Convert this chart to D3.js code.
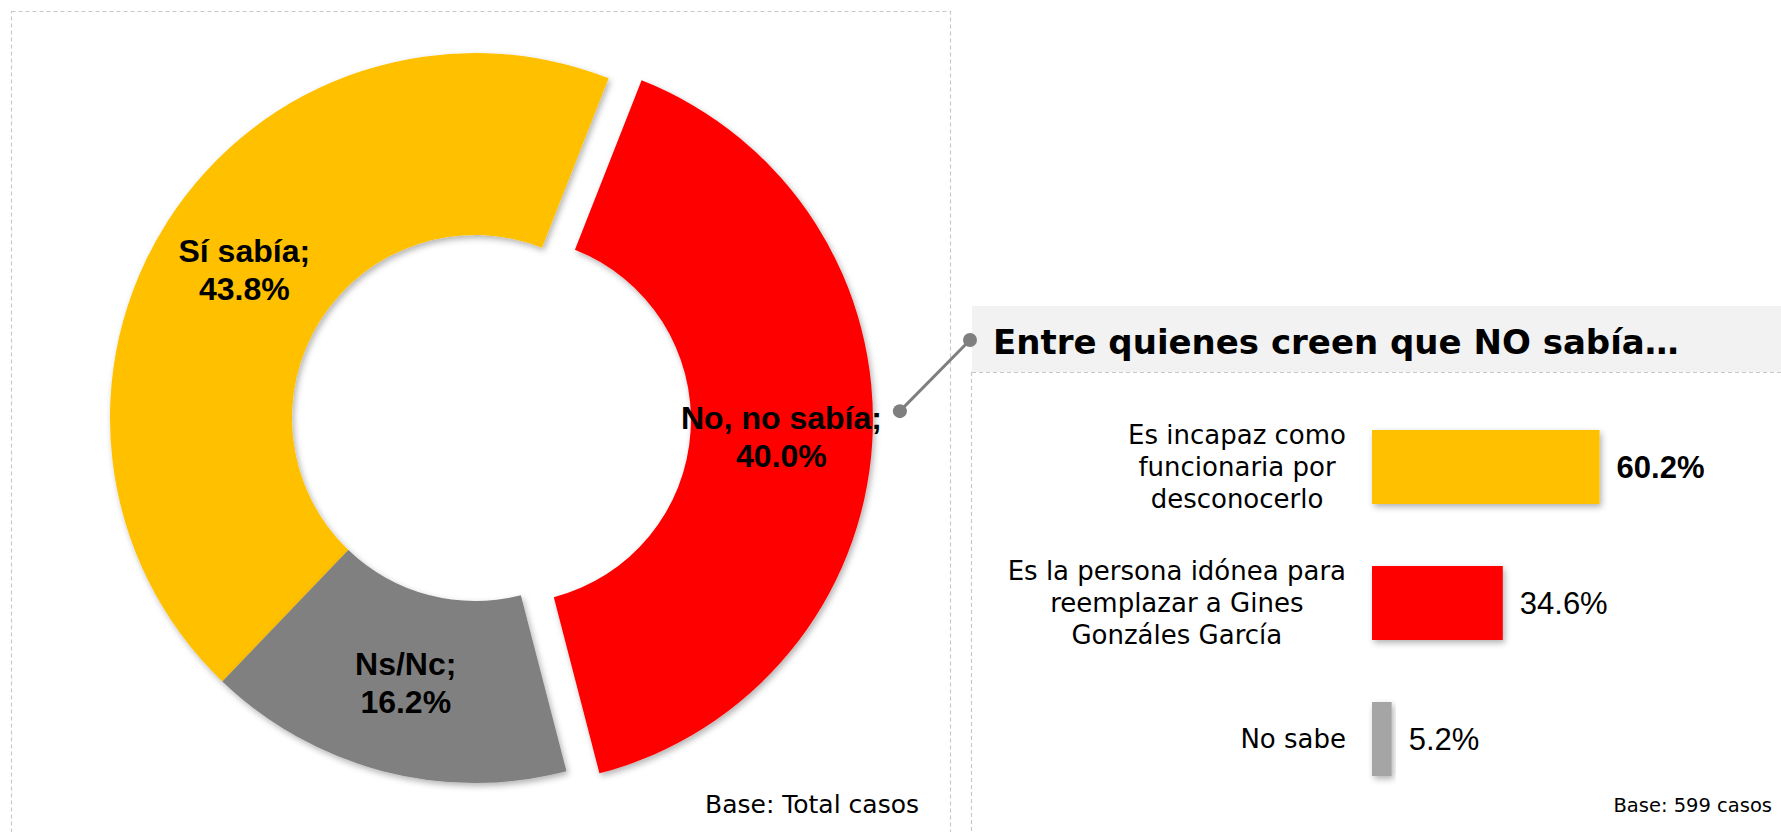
<!DOCTYPE html>
<html>
<head>
<meta charset="utf-8">
<script src="https://cdn.jsdelivr.net/npm/d3@7"></script>
<style>
  html, body { margin: 0; padding: 0; background: #fff; }
  svg { display: block; }
</style>
</head>
<body>
<div id="chart"></div>
<script>
// Donut: ¿Sabía o no sabía?
const donutLabels = ["Sí sabía", "No, no sabía", "Ns/Nc"];
const donutValues = [43.8, 40.0, 16.2];
const donutColors = ["#FFC000", "#FF0000", "#808080"];

// Barras: entre quienes creen que NO sabía
const barLabels = [
  ["Es incapaz como", "funcionaria por", "desconocerlo"],
  ["Es la persona idónea para", "reemplazar a Gines", "Gonzáles García"],
  ["No sabe"]
];
const barValues = [60.2, 34.6, 5.2];
const barColors = ["#FFC000", "#FF0000", "#A5A5A5"];

const width = 1781, height = 832;
const fontSans = "'Liberation Sans', Arial, sans-serif";
const fontDeja = "'DejaVu Sans', sans-serif";

const svg = d3.select("#chart").append("svg")
  .attr("width", width)
  .attr("height", height);

const defs = svg.append("defs");
defs.append("filter").attr("id", "shadow")
  .attr("x", "-20%").attr("y", "-20%").attr("width", "140%").attr("height", "140%")
  .append("feDropShadow")
  .attr("dx", 2).attr("dy", 3).attr("stdDeviation", 3)
  .attr("flood-color", "#000").attr("flood-opacity", 0.3);

// marcos punteados
svg.append("rect")
  .attr("x", 11.5).attr("y", 11.5)
  .attr("width", 939).attr("height", 840)
  .attr("fill", "none")
  .attr("stroke", "#c8c8c8").attr("stroke-width", 1.2)
  .attr("stroke-dasharray", "4,3");

// ---- donut ----
const cx = 475, cy = 418;
const outerR = 365, innerR = 183;
const startA = 223.8 * Math.PI / 180;
const explodeIdx = 1, explodeBy = 33;

const pie = d3.pie().sort(null).value(d => d)
  .startAngle(startA).endAngle(startA + 2 * Math.PI);
const arcs = pie(donutValues);
const arc = d3.arc().innerRadius(innerR).outerRadius(outerR);

function offset(d, i) {
  if (i !== explodeIdx) return [0, 0];
  const m = (d.startAngle + d.endAngle) / 2;
  return [Math.sin(m) * explodeBy, -Math.cos(m) * explodeBy];
}

const donut = svg.append("g").attr("transform", `translate(${cx},${cy})`);

const slices = donut.selectAll("g.slice")
  .data(arcs)
  .join("g")
  .attr("class", "slice")
  .attr("transform", (d, i) => `translate(${offset(d, i)})`);

slices.append("path")
  .attr("d", arc)
  .attr("fill", (d, i) => donutColors[i])
  .attr("filter", "url(#shadow)");

const labelGroups = slices.append("text")
  .attr("transform", d => `translate(${arc.centroid(d)})`)
  .attr("text-anchor", "middle")
  .attr("font-family", fontSans)
  .attr("font-weight", "bold")
  .attr("font-size", 32)
  .attr("fill", "#000");

labelGroups.append("tspan")
  .attr("x", 0).attr("y", -8)
  .text((d, i) => donutLabels[i] + ";");
labelGroups.append("tspan")
  .attr("x", 0).attr("y", 30)
  .text((d, i) => donutValues[i].toFixed(1) + "%");

// conector desde "No, no sabía" al panel derecho
const redLabel = labelGroups.filter((d, i) => i === explodeIdx).select("tspan").node();
const bb = redLabel.getBBox();
const redArc = arcs[explodeIdx];
const [ox, oy] = offset(redArc, explodeIdx);
const [lx, ly] = arc.centroid(redArc);
const dotX = cx + ox + lx + bb.x + bb.width + 18;
const dotY = cy + oy + ly + bb.y + bb.height * 0.32;

// ---- panel derecho ----
const panelX = 972;
svg.append("rect")
  .attr("x", panelX).attr("y", 306)
  .attr("width", width - panelX).attr("height", 66)
  .attr("fill", "#f2f2f2");
svg.append("line")
  .attr("x1", panelX).attr("x2", width)
  .attr("y1", 372.5).attr("y2", 372.5)
  .attr("stroke", "#c8c8c8").attr("stroke-width", 1.2)
  .attr("stroke-dasharray", "4,3");
svg.append("line")
  .attr("x1", panelX - 0.5).attr("x2", panelX - 0.5)
  .attr("y1", 372).attr("y2", height)
  .attr("stroke", "#c8c8c8").attr("stroke-width", 1.2)
  .attr("stroke-dasharray", "4,3");

svg.append("text")
  .attr("x", 993).attr("y", 354)
  .attr("font-family", fontDeja)
  .attr("font-weight", "bold")
  .attr("font-size", 34)
  .attr("fill", "#000")
  .text("Entre quienes creen que NO sabía…");

svg.append("line")
  .attr("x1", dotX).attr("y1", dotY)
  .attr("x2", 970).attr("y2", 340)
  .attr("stroke", "#7f7f7f").attr("stroke-width", 3);
svg.append("circle").attr("cx", dotX).attr("cy", dotY).attr("r", 7).attr("fill", "#7f7f7f");
svg.append("circle").attr("cx", 970).attr("cy", 340).attr("r", 7).attr("fill", "#7f7f7f");

// barras
const x = d3.scaleLinear().domain([0, 100]).range([1372, 1750]);
const y = d3.scaleBand()
  .domain(d3.range(barValues.length))
  .range([399, 807])
  .paddingInner(0.456)
  .paddingOuter(0.228);

const bars = svg.append("g");
bars.selectAll("rect")
  .data(barValues)
  .join("rect")
  .attr("x", x(0))
  .attr("y", (d, i) => y(i))
  .attr("width", d => x(d) - x(0))
  .attr("height", y.bandwidth())
  .attr("fill", (d, i) => barColors[i])
  .attr("filter", "url(#shadow)");

bars.selectAll("text.val")
  .data(barValues)
  .join("text")
  .attr("class", "val")
  .attr("x", d => x(d) + 17)
  .attr("y", (d, i) => y(i) + y.bandwidth() / 2)
  .attr("dy", "0.36em")
  .attr("font-family", fontSans)
  .attr("font-size", 31)
  .attr("font-weight", (d, i) => i === 0 ? "bold" : "normal")
  .attr("fill", "#000")
  .text(d => d.toFixed(1) + "%");

const lineH = 32;
const cats = bars.selectAll("text.cat")
  .data(barLabels)
  .join("text")
  .attr("class", "cat")
  .attr("text-anchor", "middle")
  .attr("font-family", fontDeja)
  .attr("font-size", 26)
  .attr("fill", "#000");

cats.each(function (lines, i) {
  const t = d3.select(this);
  const mid = y(i) + y.bandwidth() / 2;
  lines.forEach((s, k) => {
    t.append("tspan")
      .attr("x", 0)
      .attr("y", mid + (k - (lines.length - 1) / 2) * lineH)
      .attr("dy", "0.36em")
      .text(s);
  });
});
// centrar cada bloque y alinearlo a la derecha en x=1346
cats.each(function () {
  const w = this.getBBox().width;
  d3.select(this).selectAll("tspan").attr("x", 1346 - w / 2);
});

// notas de base
svg.append("text")
  .attr("x", 919).attr("y", 813)
  .attr("text-anchor", "end")
  .attr("font-family", fontDeja)
  .attr("font-size", 25)
  .attr("fill", "#000")
  .text("Base: Total casos");

svg.append("text")
  .attr("x", 1772).attr("y", 812)
  .attr("text-anchor", "end")
  .attr("font-family", fontDeja)
  .attr("font-size", 19.5)
  .attr("fill", "#000")
  .text("Base: 599 casos");
</script>
</body>
</html>
